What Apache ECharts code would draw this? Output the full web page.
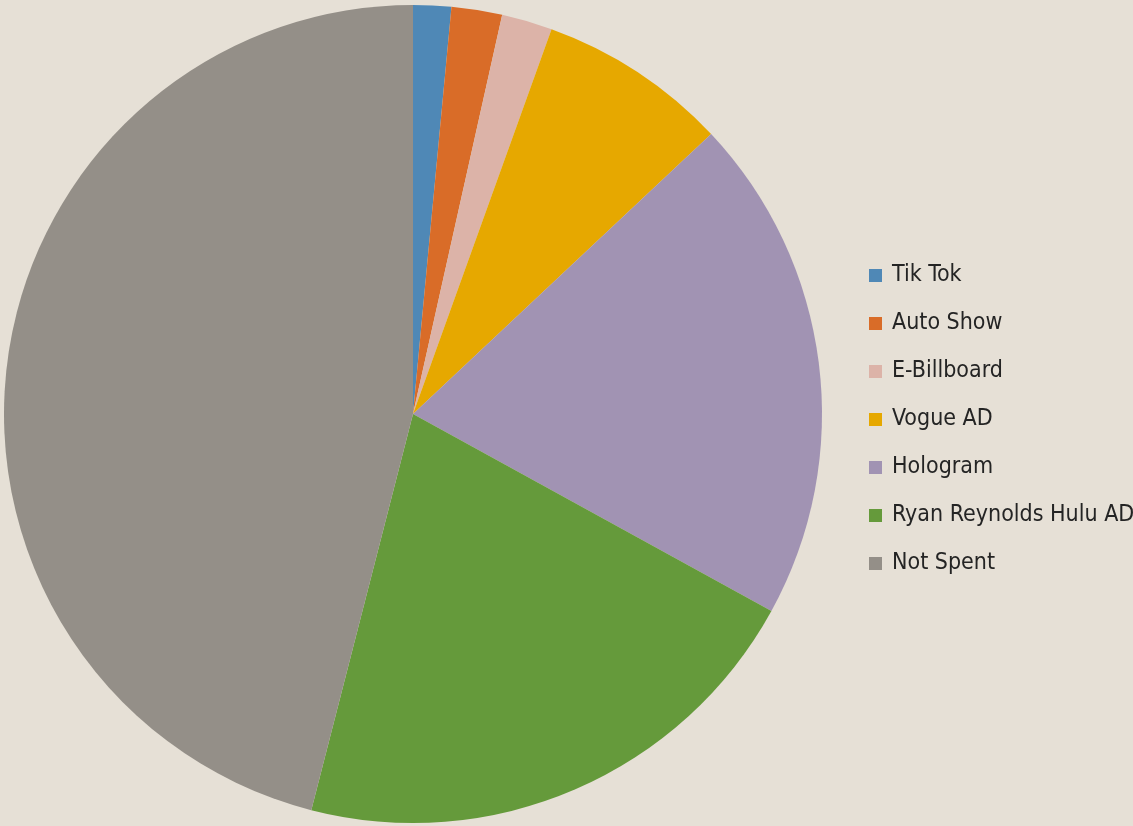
<!DOCTYPE html>
<html>
<head>
<meta charset="utf-8">
<style>
html,body{margin:0;padding:0;background:#e6e0d6;}
#chart{width:1133px;height:826px;}
</style>
<script src="https://cdn.jsdelivr.net/npm/echarts@6/dist/echarts.min.js"></script>
</head>
<body>
<div id="chart"></div>
<script>
const categories = ["Tik Tok","Auto Show","E-Billboard","Vogue AD","Hologram","Ryan Reynolds Hulu AD","Not Spent"];
const values = [1.5, 2, 2, 7.5, 20, 21, 46];
const colors = ["#4f88b6","#d96c28","#dcb3a8","#e6a800","#a193b3","#659a3b","#948f88"];

const chart = echarts.init(document.getElementById('chart'), null, {renderer:'canvas'});
chart.setOption({
  backgroundColor: '#e6e0d6',
  animation: false,
  color: colors,
  legend: {
    orient: 'vertical',
    left: 864,
    top: 257,
    itemWidth: 13,
    itemHeight: 13,
    itemGap: 21,
    icon: 'rect',
    data: categories,
    textStyle: {
      fontFamily: '"DejaVu Sans Condensed","DejaVu Sans",sans-serif',
      fontStyle: 'condensed',
      fontSize: 23,
      lineHeight: 27,
      color: '#242424',
      padding: [0,0,0,5]
    }
  },
  series: [{
    type: 'pie',
    center: [413, 414],
    radius: [0, 409],
    startAngle: 90,
    clockwise: true,
    label: {show: false},
    labelLine: {show: false},
    itemStyle: {borderWidth: 0},
    emphasis: {disabled: true},
    data: categories.map((c,i)=>({name:c, value:values[i]}))
  }]
});
</script>
</body>
</html>
